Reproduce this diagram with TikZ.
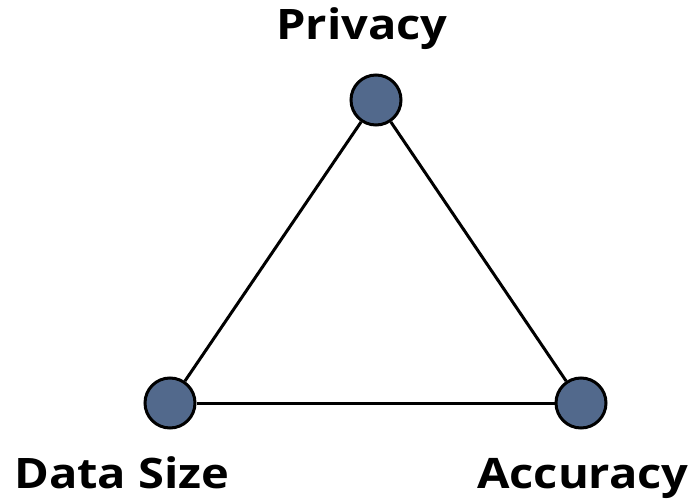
\documentclass[tikz,border=0pt]{standalone}
\usepackage{fontspec}
\setmainfont{Open Sans}
\begin{document}
\begin{tikzpicture}[x=1pt,y=1pt,
  vertex/.style={circle,draw=black,line width=3pt,fill=vfill,minimum size=50pt,inner sep=0pt},
  edge/.style={line width=3pt,draw=black},
  lbl/.style={font=\fontsize{42}{42}\selectfont\bfseries,inner sep=0pt,xscale=1.12}]
\definecolor{vfill}{RGB}{82,105,140}
\useasboundingbox (0,0) rectangle (690,501);
\node[vertex] (p) at (376,401) {};
\node[vertex] (d) at (170,98) {};
\node[vertex] (a) at (581,98) {};
\draw[edge] (p) -- (d);
\draw[edge] (d) -- (a);
\draw[edge] (a) -- (p);
\node[lbl,anchor=base] (lp) at (362,461) {Privacy};
\node[lbl,anchor=base west] (ld) at (14,13) {Data Size};
\node[lbl,anchor=base east] (la) at (689,13) {Accuracy};
\end{tikzpicture}
\end{document}
